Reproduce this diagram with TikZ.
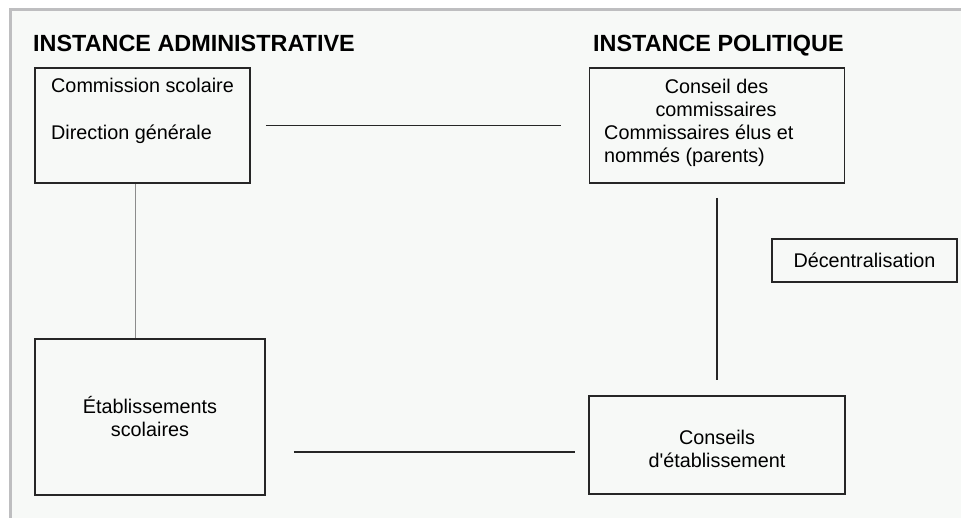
\documentclass[tikz,border=0pt]{standalone}
\usepackage{fontspec}
\setmainfont{Liberation Sans}
\definecolor{paper}{RGB}{247,249,247}
\definecolor{frame}{RGB}{190,190,192}
\begin{document}
\begin{tikzpicture}[x=1pt, y=-1pt,
  box node/.style={draw=black!85, line width=1.6pt, inner sep=0pt},
  txt node/.style={font=\fontsize{19.8}{23}\selectfont, inner sep=0pt},
  title node/.style={font=\fontsize{23.4}{28}\selectfont\bfseries, inner sep=0pt, anchor=base west},
  link/.style={line width=1.3pt, draw=black!85}]
\useasboundingbox (0,0) rectangle (961,518);
\fill[white] (0,0) rectangle (961,518);
\fill[paper] (10,10) rectangle (961,518);
\draw[frame, line width=3pt] (10,518) -- (10,10) -- (961,10);
% titles
\node[title node] (tadm) at (33,52) {INSTANCE ADMINISTRATIVE};
\node[title node] (tpol) at (593,52) {INSTANCE POLITIQUE};
% boxes
\node[box node, minimum width=215pt, minimum height=115pt] (cs) at (142.5,125.5) {};
\node[box node, minimum width=255pt, minimum height=115pt] (cp) at (717,125.5) {};
\node[box node, minimum width=230pt, minimum height=156pt, txt node, align=center] (es) at (150,417) {Établissements\\scolaires};
\node[box node, minimum width=256pt, minimum height=98pt] (ce) at (717,445) {};
\node[box node, minimum width=185pt, minimum height=43pt, txt node] (dec) at (864.5,260.5) {Décentralisation};
% texts
\begin{scope}[every node/.style={txt node}]
\node[anchor=base west] (cs1) at (51,93) {Commission scolaire};
\node[anchor=base west] (cs2) at (51,140) {Direction générale};
\node[anchor=base] (cp1) at (716.5,94) {Conseil des};
\node[anchor=base] (cp2) at (716,117) {commissaires};
\node[anchor=base west] (cp3) at (604,140) {Commissaires élus et};
\node[anchor=base west] (cp4) at (604,163) {nommés (parents)};
\node[align=center] (ce1) at (717,449) {Conseils\\d\textquotesingle établissement};
\end{scope}
% links
\draw[link, shorten <=15pt, shorten >=28pt] (cs) -- (cp);
\draw[link, draw=black!45, line width=1pt] ([xshift=101pt]cs.south west) -- ([xshift=101pt]es.north west);
\draw[link, shorten <=14pt, shorten >=15pt] (cp) -- (ce);
\draw[link, shorten <=28pt, shorten >=13pt] ([yshift=-35pt]es.east) -- ([yshift=-7pt]ce.west);
\end{tikzpicture}
\end{document}
